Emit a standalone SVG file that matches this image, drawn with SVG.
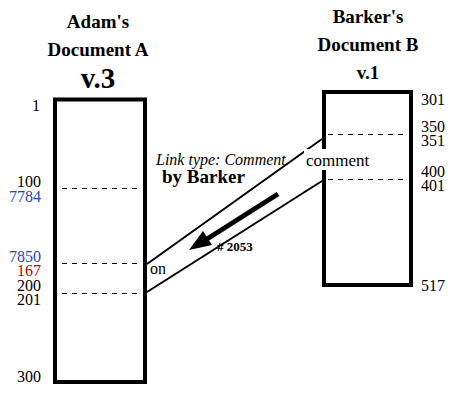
<svg xmlns="http://www.w3.org/2000/svg" width="470" height="400" viewBox="0 0 470 400" font-family="'Liberation Serif', 'DejaVu Serif', serif">
<style>
text{font-family:'Liberation Serif','DejaVu Serif',serif;fill:#000}
.title{font-size:19px;font-weight:bold;text-anchor:middle}
.big{font-size:29px;font-weight:bold;text-anchor:middle}
.num{font-size:16px}
.l{text-anchor:end}
.box{fill:#fff;stroke:#000;stroke-width:4}
.dash{stroke:#000;stroke-width:1;stroke-dasharray:5 5;fill:none}
.conn{stroke:#000;stroke-width:2;fill:none}
.blue{fill:#1f45c8}
.red{fill:#c00000}
</style>
<rect width="470" height="400" fill="#fff"/>
<g id="docA">
<text class="title" x="98" y="28">Adam's</text>
<text class="title" x="98" y="56">Document A</text>
<text class="big" x="98" y="88">v.3</text>
<rect class="box" x="55" y="99.5" width="90" height="282.5"/>
<line class="dash" x1="62" y1="188.5" x2="138" y2="188.5"/>
<line class="dash" x1="62" y1="263.5" x2="138" y2="263.5"/>
<line class="dash" x1="62" y1="293.5" x2="138" y2="293.5"/>
<text class="num l" x="40" y="111">1</text>
<text class="num l" x="41" y="187">100</text>
<text class="num l blue" x="41" y="202">7784</text>
<text class="num l blue" x="41" y="262">7850</text>
<text class="num l red" x="41" y="276">167</text>
<text class="num l" x="41" y="291">200</text>
<text class="num l" x="41" y="305">201</text>
<text class="num l" x="41" y="382">300</text>
</g>
<g id="docB">
<text class="title" x="368" y="23">Barker's</text>
<text class="title" x="368" y="51">Document B</text>
<text class="title" x="368" y="79">v.1</text>
<rect class="box" x="324" y="92" width="87" height="193"/>
<line class="dash" x1="328" y1="134.5" x2="408" y2="134.5"/>
<line class="dash" x1="328" y1="179.5" x2="408" y2="179.5"/>
<text class="num" x="421" y="105">301</text>
<text class="num" x="421" y="132">350</text>
<text class="num" x="421" y="146">351</text>
<text class="num" x="421" y="177">400</text>
<text class="num" x="421" y="191">401</text>
<text class="num" x="421" y="291">517</text>
</g>
<g id="connectors">
<line class="conn" x1="147" y1="264" x2="322" y2="139"/>
<line class="conn" x1="147" y1="292" x2="322" y2="181"/>
<line x1="278" y1="194" x2="207" y2="239" stroke="#000" stroke-width="5"/>
<polygon points="189,250 212,245 203,231" fill="#000"/>
</g>
<g id="labels">
<rect x="304" y="149" width="68" height="21" fill="#fff"/>
<text x="306" y="166" font-size="17">comment</text>
<text x="150" y="274" font-size="16">on</text>
<text x="156" y="165" font-size="16" font-style="italic">Link type: Comment</text>
<text x="162" y="183" font-size="19" font-weight="bold">by Barker</text>
<text x="217" y="251" font-size="13" font-weight="bold"># 2053</text>
</g>
</svg>
